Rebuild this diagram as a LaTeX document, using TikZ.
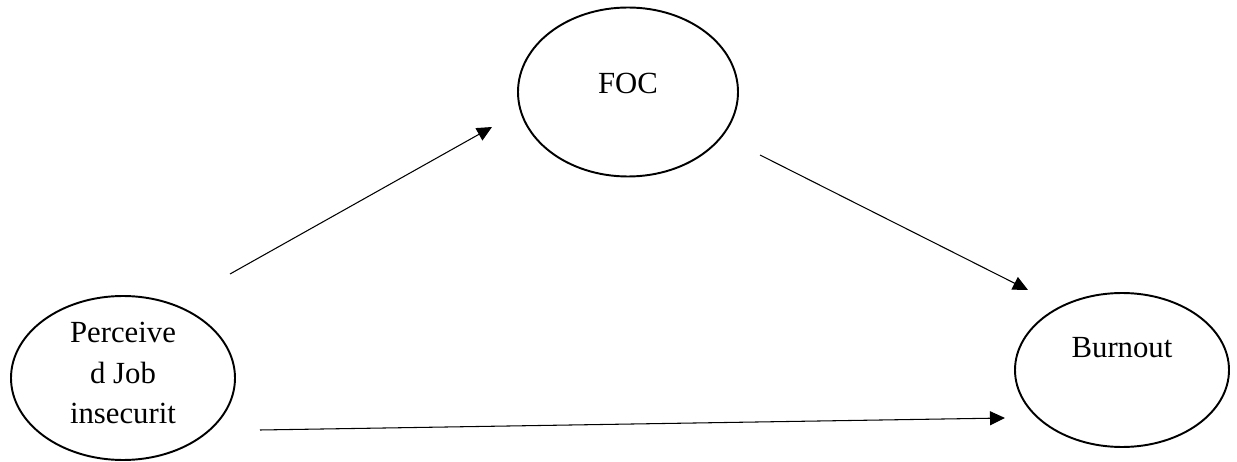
\documentclass[tikz,border=0pt]{standalone}
\usepackage{fontspec}
\setmainfont{Liberation Serif}
\usetikzlibrary{shapes.geometric,arrows.meta}

\begin{document}
\begin{tikzpicture}[x=0.02cm,y=-0.02cm,-{Triangle[length=0.3cm,width=0.28cm]}]
    \tikzstyle{vertex}=[ellipse,draw=black,line width=1.1pt,fill=white,inner sep=0pt]
    \tikzstyle{label text}=[font=\fontsize{17.5}{22.8}\selectfont,align=center,inner sep=0pt]
    \tikzstyle{path}=[line width=0.6pt]
    \useasboundingbox (0,0) rectangle (1237,462);

    % latent variables
    \node[vertex,minimum width=224*0.02cm,minimum height=164*0.02cm] (PJI) at (123,378) {};
    \node[vertex,minimum width=220*0.02cm,minimum height=169*0.02cm] (FOC) at (628,92) {};
    \node[vertex,minimum width=214*0.02cm,minimum height=154*0.02cm] (BO) at (1122,370) {};

    \node[label text] (PJI-text) at ([yshift=0.1cm]PJI.center) {Perceive\\d Job\\insecurit};
    \node[label text] (FOC-text) at ([yshift=0.18cm]FOC.center) {FOC};
    \node[label text] (BO-text) at ([yshift=0.44cm]BO.center) {Burnout};

    % arrow ends
    \coordinate (PJI-a) at (230,274);
    \coordinate (FOC-a) at (492,127);
    \coordinate (FOC-b) at (760,155);
    \coordinate (BO-a) at (1028,290);
    \coordinate (PJI-b) at (260,430);
    \coordinate (BO-b) at (1005,418);

    \foreach \from/\to in {PJI-a/FOC-a,FOC-b/BO-a,PJI-b/BO-b}
        \draw[path] (\from) -- (\to);
\end{tikzpicture}
\end{document}
